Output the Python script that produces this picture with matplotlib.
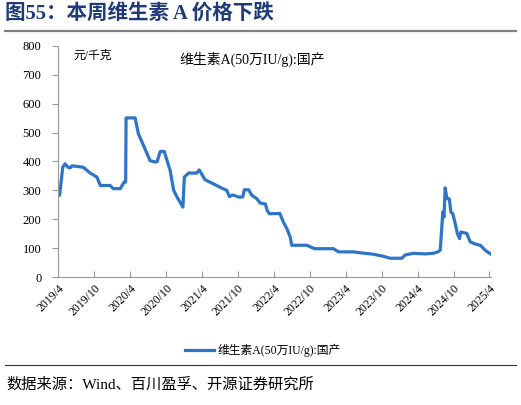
import numpy as np
import pandas as pd
import matplotlib
matplotlib.use('Agg')
import matplotlib.pyplot as plt
from matplotlib.lines import Line2D

plt.rcParams['font.family'] = ['Liberation Serif', 'Noto Sans CJK SC']
plt.rcParams['axes.unicode_minus'] = False

# 维生素A(50万IU/g):国产, 元/千克
dates = [
    '2019-04-02', '2019-04-08', '2019-04-16', '2019-04-24', '2019-05-06', '2019-05-21',
    '2019-06-01', '2019-06-10', '2019-07-05', '2019-08-07', '2019-09-10', '2019-10-15',
    '2019-11-01', '2019-12-21', '2020-01-06', '2020-02-11', '2020-03-01', '2020-03-09',
    '2020-03-11', '2020-04-26', '2020-05-13', '2020-06-08', '2020-07-11', '2020-08-06',
    '2020-08-16', '2020-09-01', '2020-09-21', '2020-10-21', '2020-11-08', '2020-11-25',
    '2020-12-25', '2021-01-01', '2021-01-23', '2021-03-05', '2021-03-18', '2021-04-16',
    '2021-05-28', '2021-07-01', '2021-08-05', '2021-08-18', '2021-09-06', '2021-10-03',
    '2021-10-25', '2021-11-02', '2021-11-24', '2021-12-10', '2022-01-05', '2022-01-22',
    '2022-02-17', '2022-02-26', '2022-03-09', '2022-05-02', '2022-05-19', '2022-06-06',
    '2022-06-23', '2022-07-01', '2022-09-16', '2022-10-11', '2022-10-28', '2023-01-30',
    '2023-02-24', '2023-05-10', '2023-06-13', '2023-08-19', '2023-10-08', '2023-11-13',
    '2024-01-12', '2024-01-28', '2024-03-09', '2024-05-09', '2024-06-19', '2024-07-13',
    '2024-07-25', '2024-08-02', '2024-08-07', '2024-08-13', '2024-08-19', '2024-08-28',
    '2024-09-09', '2024-09-17', '2024-09-27', '2024-10-09', '2024-10-20', '2024-10-31',
    '2024-11-07', '2024-12-07', '2024-12-24', '2025-01-19', '2025-02-14', '2025-03-10',
    '2025-04-06',
]
prices = [
    306, 283, 330, 380, 392, 380,
    378, 385, 383, 380, 360, 346,
    317, 317, 306, 306, 329, 329,
    551, 551, 495, 455, 403, 398,
    400, 435, 435, 369, 300, 277,
    242, 346, 360, 360, 371, 337,
    323, 311, 300, 279, 284, 277,
    277, 302, 302, 283, 271, 256,
    253, 231, 219, 220, 191, 168,
    139, 110, 110, 102, 98, 98,
    87, 87, 84, 79, 72, 65,
    65, 76, 82, 80, 82, 87,
    93, 173, 225, 207, 309, 271,
    271, 225, 219, 185, 151, 133,
    156, 151, 122, 114, 110, 93,
    80,
]
tick_dates = ['2019-04-01', '2019-10-01', '2020-04-01', '2020-10-01', '2021-04-01',
              '2021-10-01', '2022-04-01', '2022-10-01', '2023-04-01', '2023-10-01',
              '2024-04-01', '2024-10-01', '2025-04-01']
tick_labels = ['2019/4', '2019/10', '2020/4', '2020/10', '2021/4', '2021/10', '2022/4',
               '2022/10', '2023/4', '2023/10', '2024/4', '2024/10', '2025/4']
y_ticks = [0, 100, 200, 300, 400, 500, 600, 700, 800]
series_name = '维生素A(50万IU/g):国产'

line_color = '#2E75C8'
title_color = '#1F3A78'

x = pd.to_datetime(dates)
xt = pd.to_datetime(tick_dates)

fig = plt.figure(figsize=(5.21, 4.05), dpi=100)
ax = fig.add_axes([58 / 521, 1 - 277 / 405, (491 - 58) / 521, (277 - 46) / 405])

ax.plot(x, prices, color=line_color, lw=2.3, solid_joinstyle='round')

ax.set_ylim(0, 800)
ax.set_yticks(y_ticks)
ax.set_xlim(xt[0] - pd.Timedelta(days=1), xt[-1] + pd.Timedelta(days=8))
ax.set_xticks(xt)
ax.set_xticklabels(tick_labels, rotation=45, ha='right', va='top', rotation_mode='anchor')

for s in ['top', 'right']:
    ax.spines[s].set_visible(False)
for s in ['left', 'bottom']:
    ax.spines[s].set_color('#999999')
    ax.spines[s].set_linewidth(0.8)
ax.tick_params(axis='y', direction='out', length=4, color='#999999', labelsize=9, pad=8)
ax.tick_params(axis='x', direction='in', length=4, color='#999999', labelsize=8.5, pad=4)

ax.text(0.035, 0.985, '元/千克', transform=ax.transAxes, fontsize=8.5, va='top', ha='left')
ax.text(0.28, 0.975, series_name, transform=ax.transAxes, fontsize=10, va='top', ha='left')

# legend
handle = Line2D([], [], color=line_color, lw=2.3)
fig.legend([handle], [series_name], loc='center', bbox_to_anchor=(0.505, 1 - 350 / 405),
           frameon=False, fontsize=8.5, handlelength=2.5, handletextpad=0.3)

# title and source
fig.text(5 / 521, 1 - 14 / 405, '图55：本周维生素 A 价格下跌', fontsize=14.8, fontweight='bold',
         color=title_color, va='center', ha='left')
fig.add_artist(Line2D([5 / 521, 516 / 521], [1 - 31 / 405, 1 - 31 / 405], color='#808080', lw=1.6))
fig.add_artist(Line2D([5 / 521, 516 / 521], [1 - 365 / 405, 1 - 365 / 405], color='#333333', lw=0.8))
fig.text(6 / 521, 1 - 385 / 405, '数据来源：Wind、百川盈孚、开源证券研究所', fontsize=11,
         va='center', ha='left')

fig.savefig('out.png', dpi=100)
